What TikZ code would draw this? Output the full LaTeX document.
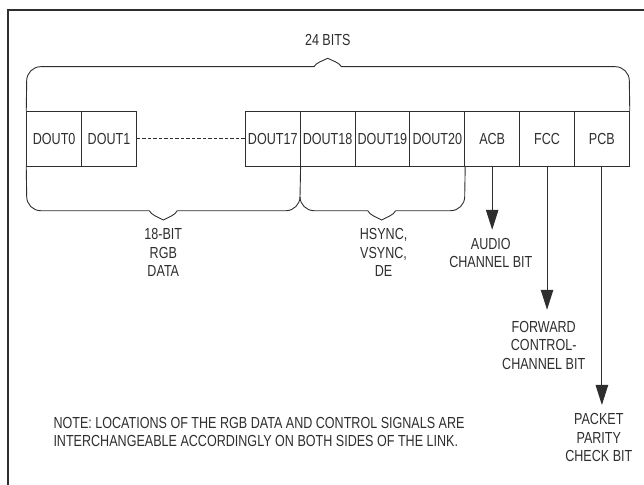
\documentclass[tikz,border=0pt]{standalone}
\usepackage{fontspec}
\setmainfont{Liberation Sans}[FakeStretch=0.785]
\usetikzlibrary{arrows.meta}
\definecolor{ink}{HTML}{2E2E2E}
\begin{document}
\begin{tikzpicture}[x=1pt,y=-1pt,
  every node/.style={font=\fontsize{16pt}{18.5pt}\selectfont, text=ink},
  bitbox/.style={draw=ink, line width=0.9pt, minimum width=54.86pt, minimum height=54.3pt, inner sep=0pt},
  brace/.style={draw=ink, line width=0.9pt},
  arr/.style={draw=ink, line width=0.9pt, -{Triangle[width=12.5pt,length=20pt]}},
  lbl/.style={anchor=north, align=center, inner sep=0pt}]
\useasboundingbox (0,0) rectangle (644,484);
% frame
\draw[ink, line width=1.8pt] (8.3,500) -- (8.3,10) -- (660,10);
% boxes
\node[bitbox] (b0) at (54.13,138.85) {DOUT0};
\node[bitbox] (b1) at (108.99,138.85) {DOUT1};
\node[bitbox] (b17) at (272.73,138.85) {DOUT17};
\node[bitbox] (b18) at (327.59,138.85) {DOUT18};
\node[bitbox] (b19) at (382.45,138.85) {DOUT19};
\node[bitbox] (b20) at (437.31,138.85) {DOUT20};
\node[bitbox] (acb) at (492.17,138.85) {ACB};
\node[bitbox] (fcc) at (547.03,138.85) {FCC};
\node[bitbox] (pcb) at (601.89,138.85) {PCB};
\draw[ink, line width=0.9pt, dash pattern=on 3.5pt off 2pt] (b1.east) -- (b17.west);
% top brace
\draw[brace] (b0.north west) -- (26.7,80.7) .. controls (26.7,73) and (33,66.7) .. (40.7,66.7)
  -- (314,66.7) .. controls (316,62.7) and (322.7,60.8) .. (327.7,58.3)
  .. controls (332.7,60.8) and (339.4,62.7) .. (341.4,66.7)
  -- (615.3,66.7) .. controls (623,66.7) and (629.3,73) .. (629.3,80.7) -- (pcb.north east);
% lower brace 1
\draw[brace] (b0.south west) -- (26.7,196.7) .. controls (26.7,204.4) and (33,210.7) .. (40.7,210.7)
  -- (149.3,210.7) .. controls (151.3,215.1) and (158.3,217.2) .. (163.3,220)
  .. controls (168.3,217.2) and (175.3,215.1) .. (177.3,210.7)
  -- (286,210.7) .. controls (293.7,210.7) and (300,204.4) .. (300,196.7) -- (b17.south east);
% lower brace 2
\draw[brace] (300,196.7) .. controls (300,204.4) and (306.3,210.7) .. (314,210.7)
  -- (367.7,210.7) .. controls (369.7,215.1) and (376.7,217.2) .. (381.7,220)
  .. controls (386.7,217.2) and (393.7,215.1) .. (395.7,210.7)
  -- (450.7,210.7) .. controls (458.4,210.7) and (464.7,204.4) .. (464.7,196.7) -- (b20.south east);
% arrows
\coordinate (acbt) at ([yshift=-63.3pt]acb.south);
\coordinate (fcct) at ([yshift=-143.3pt]fcc.south);
\coordinate (pcbt) at ([yshift=-238.5pt]pcb.south);
\draw[arr] (acb.south) -- (acbt);
\draw[arr] (fcc.south) -- (fcct);
\draw[arr] (pcb.south) -- (pcbt);
% labels
\node[lbl] (t24) at (327.7,34) {24 BITS};
\node[lbl] (trgb) at (163.3,228.3) {18-BIT\\RGB\\DATA};
\node[lbl] (tsync) at (383.6,228.3) {HSYNC,\\VSYNC,\\DE};
\node[lbl] (tacb) at (490.8,237.7) {AUDIO\\CHANNEL BIT};
\node[lbl] (tfcc) at (543.7,320.7) {FORWARD\\CONTROL-\\CHANNEL BIT};
\node[lbl] (tpcb) at (598.8,413.3) {PACKET\\PARITY\\CHECK BIT};
\node[anchor=north west, align=left, inner sep=0pt] (note) at (53.3,416.7) {NOTE: LOCATIONS OF THE RGB DATA AND CONTROL SIGNALS ARE\\INTERCHANGEABLE ACCORDINGLY ON BOTH SIDES OF THE LINK.};
\end{tikzpicture}
\end{document}
